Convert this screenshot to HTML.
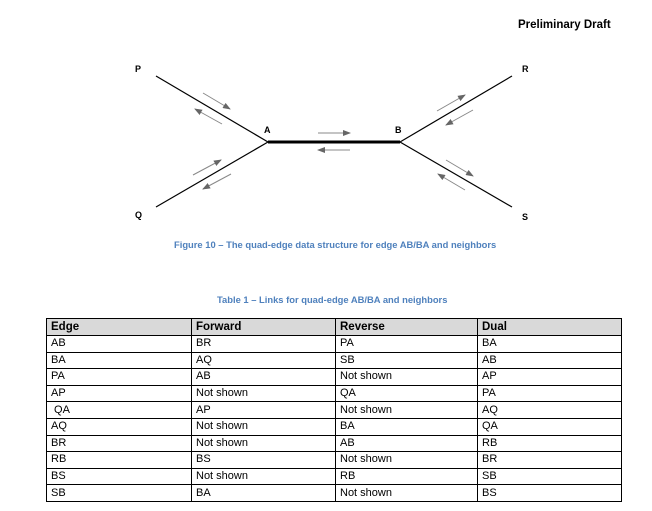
<!DOCTYPE html>
<html><head><meta charset="utf-8"><style>
body{margin:0;width:652px;height:511px;background:#fff;position:relative;font-family:"Liberation Sans",sans-serif;overflow:hidden}
.t{position:absolute;white-space:nowrap}
table{position:absolute;left:46px;top:318px;border-collapse:collapse;font-size:11px;color:#000}
td{border:1px solid #000;height:16.6px;padding:0 0 0 4px;line-height:15px;box-sizing:border-box}
tr.h td{background:#d9d9d9;font-weight:bold;font-size:11.5px;height:17px}
</style></head><body>
<div class="t" style="left:518px;top:19px;font-size:11.5px;font-weight:bold">Preliminary Draft</div>
<svg width="652" height="260" style="position:absolute;left:0;top:0" font-family="Liberation Sans" font-weight="bold" font-size="9">
<defs><marker id="a" markerWidth="8" markerHeight="6" refX="7" refY="3" orient="auto" markerUnits="userSpaceOnUse"><path d="M0,0L8,3L0,6z" fill="#666"/></marker></defs>
<g stroke="#000" stroke-width="1.2" fill="none">
<line x1="156" y1="76" x2="268" y2="142"/><line x1="156" y1="207" x2="268" y2="142"/>
<line x1="512" y1="76" x2="400" y2="142"/><line x1="512" y1="207" x2="400" y2="142"/>
<line x1="268" y1="142" x2="400" y2="142" stroke-width="3"/>
</g>
<g stroke="#888" stroke-width="1" marker-end="url(#a)">
<line x1="203" y1="93" x2="230" y2="109"/><line x1="222" y1="124" x2="195" y2="109"/>
<line x1="193" y1="175" x2="221" y2="160"/><line x1="231" y1="174" x2="203" y2="189"/>
<line x1="318" y1="133" x2="350" y2="133"/><line x1="350" y1="150" x2="318" y2="150"/>
<line x1="437" y1="111" x2="465" y2="95"/><line x1="473" y1="110" x2="446" y2="125"/>
<line x1="446" y1="160" x2="473" y2="176"/><line x1="465" y1="190" x2="438" y2="174"/>
</g>
<text x="135" y="72">P</text><text x="135" y="218">Q</text>
<text x="264" y="133">A</text><text x="395" y="133">B</text>
<text x="522" y="72">R</text><text x="522" y="220">S</text>
</svg>
<div class="t" style="left:174px;top:239px;font-size:9.4px;font-weight:bold;color:#4f81bd">Figure 10 – The quad-edge data structure for edge AB/BA and neighbors</div>
<div class="t" style="left:217px;top:294px;font-size:9.4px;font-weight:bold;color:#4f81bd">Table 1 – Links for quad-edge AB/BA and neighbors</div>
<table>
<colgroup><col style="width:145px"><col style="width:144px"><col style="width:142px"><col style="width:144px"></colgroup>
<tr class="h"><td>Edge</td><td>Forward</td><td>Reverse</td><td>Dual</td></tr>
<tr><td>AB</td><td>BR</td><td>PA</td><td>BA</td></tr>
<tr><td>BA</td><td>AQ</td><td>SB</td><td>AB</td></tr>
<tr><td>PA</td><td>AB</td><td>Not shown</td><td>AP</td></tr>
<tr><td>AP</td><td>Not shown</td><td>QA</td><td>PA</td></tr>
<tr><td>&nbsp;QA</td><td>AP</td><td>Not shown</td><td>AQ</td></tr>
<tr><td>AQ</td><td>Not shown</td><td>BA</td><td>QA</td></tr>
<tr><td>BR</td><td>Not shown</td><td>AB</td><td>RB</td></tr>
<tr><td>RB</td><td>BS</td><td>Not shown</td><td>BR</td></tr>
<tr><td>BS</td><td>Not shown</td><td>RB</td><td>SB</td></tr>
<tr><td>SB</td><td>BA</td><td>Not shown</td><td>BS</td></tr>
</table>
</body></html>
